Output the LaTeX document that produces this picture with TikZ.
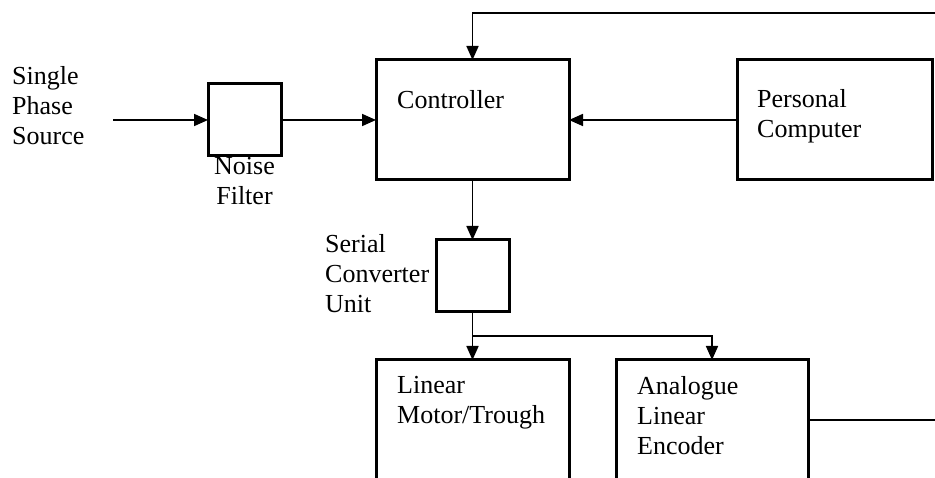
\documentclass[tikz,border=0pt]{standalone}
\usepackage{fontspec}
\setmainfont{Liberation Serif}
\usetikzlibrary{arrows.meta}
\begin{document}
\begin{tikzpicture}[x=1pt,y=-1pt,
 box/.style={draw, line width=3pt, inner sep=0, outer sep=0},
 conn/.style={line width=1.7pt, -{Triangle[length=14pt,width=12pt]}},
 wire/.style={line width=1.7pt},
 txt/.style={font=\fontsize{26}{30}\selectfont, align=left, inner sep=0, anchor=north west}]
\useasboundingbox (0,0) rectangle (935,478);
\clip (0,0) rectangle (935,478);
% boxes
\node[box, minimum width=193, minimum height=120] (ctrl) at (472.5,120) {};
\node[box, minimum width=195, minimum height=120] (pc) at (834.5,120) {};
\node[box, minimum width=73, minimum height=72] (nf) at (244.5,120) {};
\node[box, minimum width=73, minimum height=72] (scu) at (472.5,276) {};
\node[box, minimum width=193, minimum height=140] (lm) at (472.5,430) {};
\node[box, minimum width=192, minimum height=140] (ale) at (712,430) {};
% free ends
\coordinate (src) at (113,120);
\coordinate (fb) at (935,13);
\coordinate (ae) at (935,420);
\coordinate (br) at (472.5,336);
% connectors
\draw[conn] (src) -- (src -| nf.west);
\draw[conn] (nf.east) -- (nf.east -| ctrl.west);
\draw[conn] (pc.west) -- (pc.west -| ctrl.east);
\draw[conn] (fb) -| (ctrl.north);
\draw[conn] (ctrl.south) -- (ctrl.south |- scu.north);
\draw[conn] (scu.south) -- (scu.south |- lm.north);
\draw[conn] (br -| scu.south) -| (ale.north);
\draw[wire] (ae -| ale.east) -- (ae);
% texts
\node[txt] (tsrc) at (12,66) {Single\\Phase\\Source};
\node[txt] (tctrl) at (397,90) {Controller};
\node[txt] (tpc) at (757,89) {Personal\\Computer};
\node[txt, align=center, anchor=north] (tnf) at (244.5,157) {Noise\\Filter};
\node[txt] (tscu) at (325,234) {Serial\\Converter\\Unit};
\node[txt] (tlm) at (397,376) {Linear\\Motor/Trough};
\node[txt] (tale) at (637,376) {Analogue\\Linear\\Encoder};
\end{tikzpicture}
\end{document}
